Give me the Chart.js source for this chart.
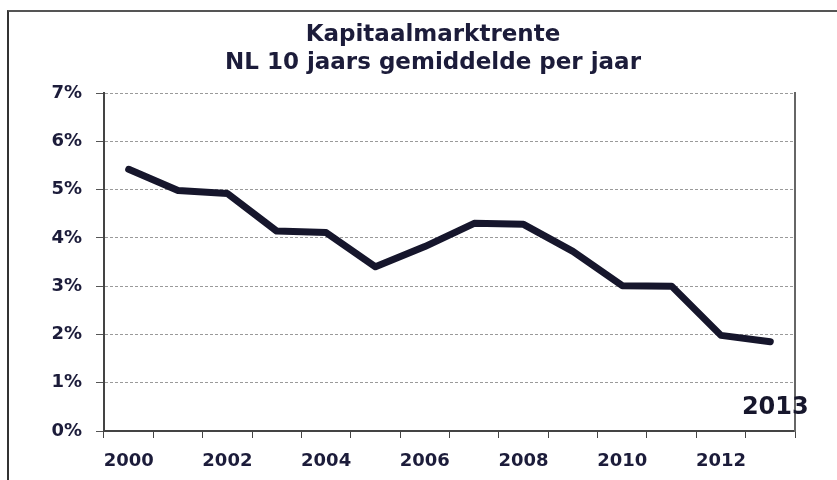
<!DOCTYPE html>
<html>
<head>
<meta charset="utf-8">
<script src="https://cdn.jsdelivr.net/npm/chart.js@4/dist/chart.umd.min.js"></script>
<style>
    body { margin: 0; background: #ffffff; }
    #wrap { position: relative; width: 837px; height: 480px; }
    #frame { position: absolute; left: 7px; top: 10px; right: 0; bottom: -4px;
             border-left: 2px solid #333; border-top: 2px solid #555; pointer-events: none; }
</style>
</head>
<body>
<div id="wrap">
    <canvas id="renteChart" width="837" height="480"></canvas>
    <div id="frame"></div>
</div>
<script>
// Kapitaalmarktrente, NL 10 jaars, gemiddelde per jaar (%)
const years = ['2000', '2001', '2002', '2003', '2004', '2005', '2006',
               '2007', '2008', '2009', '2010', '2011', '2012', '2013'];
const rente = [5.42, 4.98, 4.92, 4.14, 4.11, 3.40, 3.82,
               4.30, 4.28, 3.72, 3.01, 3.00, 1.98, 1.85];
const titleLines = ['Kapitaalmarktrente', 'NL 10 jaars gemiddelde per jaar'];

const inkt = '#16162c';
const tekst = '#1c1c3a';

// jaartal rechtsonder in het plotvlak
const jaartalPlugin = {
    id: 'jaartal',
    afterDraw(chart) {
        const ctx = chart.ctx;
        const x = chart.scales.x.getPixelForValue(years.length - 1) + 5;
        const y = chart.scales.y.getPixelForValue(0.48);
        ctx.save();
        ctx.font = 'bold 24px "DejaVu Sans"';
        ctx.fillStyle = inkt;
        ctx.textAlign = 'center';
        ctx.textBaseline = 'middle';
        ctx.fillText(years[years.length - 1], x, y);
        ctx.restore();
    }
};

new Chart(document.getElementById('renteChart'), {
    type: 'line',
    data: {
        labels: years,
        datasets: [{
            label: 'Kapitaalmarktrente',
            data: rente,
            borderColor: inkt,
            borderWidth: 7,
            pointRadius: 0,
            tension: 0,
            borderJoinStyle: 'round',
            borderCapStyle: 'round'
        }]
    },
    options: {
        responsive: false,
        animation: false,
        layout: { padding: { left: 29, right: 0, top: 0, bottom: 0 } },
        plugins: {
            legend: { display: false },
            tooltip: { enabled: false },
            title: {
                display: true,
                text: titleLines,
                color: tekst,
                font: { family: '"DejaVu Sans"', size: 23, weight: 'bold', lineHeight: '28px' },
                padding: { top: 21, bottom: 16 }
            }
        },
        scales: {
            x: {
                type: 'category',
                offset: true,
                afterFit: s => { s.height = 49; },
                grid: { drawOnChartArea: false, offset: true, tickLength: 7, tickColor: '#444', tickWidth: 1 },
                border: { color: '#444', width: 2 },
                ticks: {
                    autoSkip: false,
                    maxRotation: 0,
                    padding: 13,
                    color: tekst,
                    font: { family: '"DejaVu Sans"', size: 18, weight: 'bold' },
                    callback: (v, i) => (i % 2 === 0 ? years[i] : '')
                }
            },
            y: {
                min: 0,
                max: 7,
                afterFit: s => { s.width = 75; },
                grid: { color: '#9a9a9a', lineWidth: 1, tickLength: 8, tickColor: '#555', tickBorderDash: [] },
                border: { color: '#444', width: 2, dash: [3, 2] },
                ticks: {
                    stepSize: 1,
                    padding: 14,
                    color: tekst,
                    font: { family: '"DejaVu Sans"', size: 18, weight: 'bold' },
                    callback: v => v + '%'
                }
            },
            // rechterrand van het plotvlak
            y2: {
                position: 'right',
                min: 0,
                max: 7,
                afterFit: s => { s.width = 42; },
                grid: { display: true, drawOnChartArea: false, drawTicks: false },
                border: { display: true, color: '#666', width: 2 },
                ticks: { display: false }
            }
        }
    },
    plugins: [jaartalPlugin]
});
</script>
</body>
</html>
